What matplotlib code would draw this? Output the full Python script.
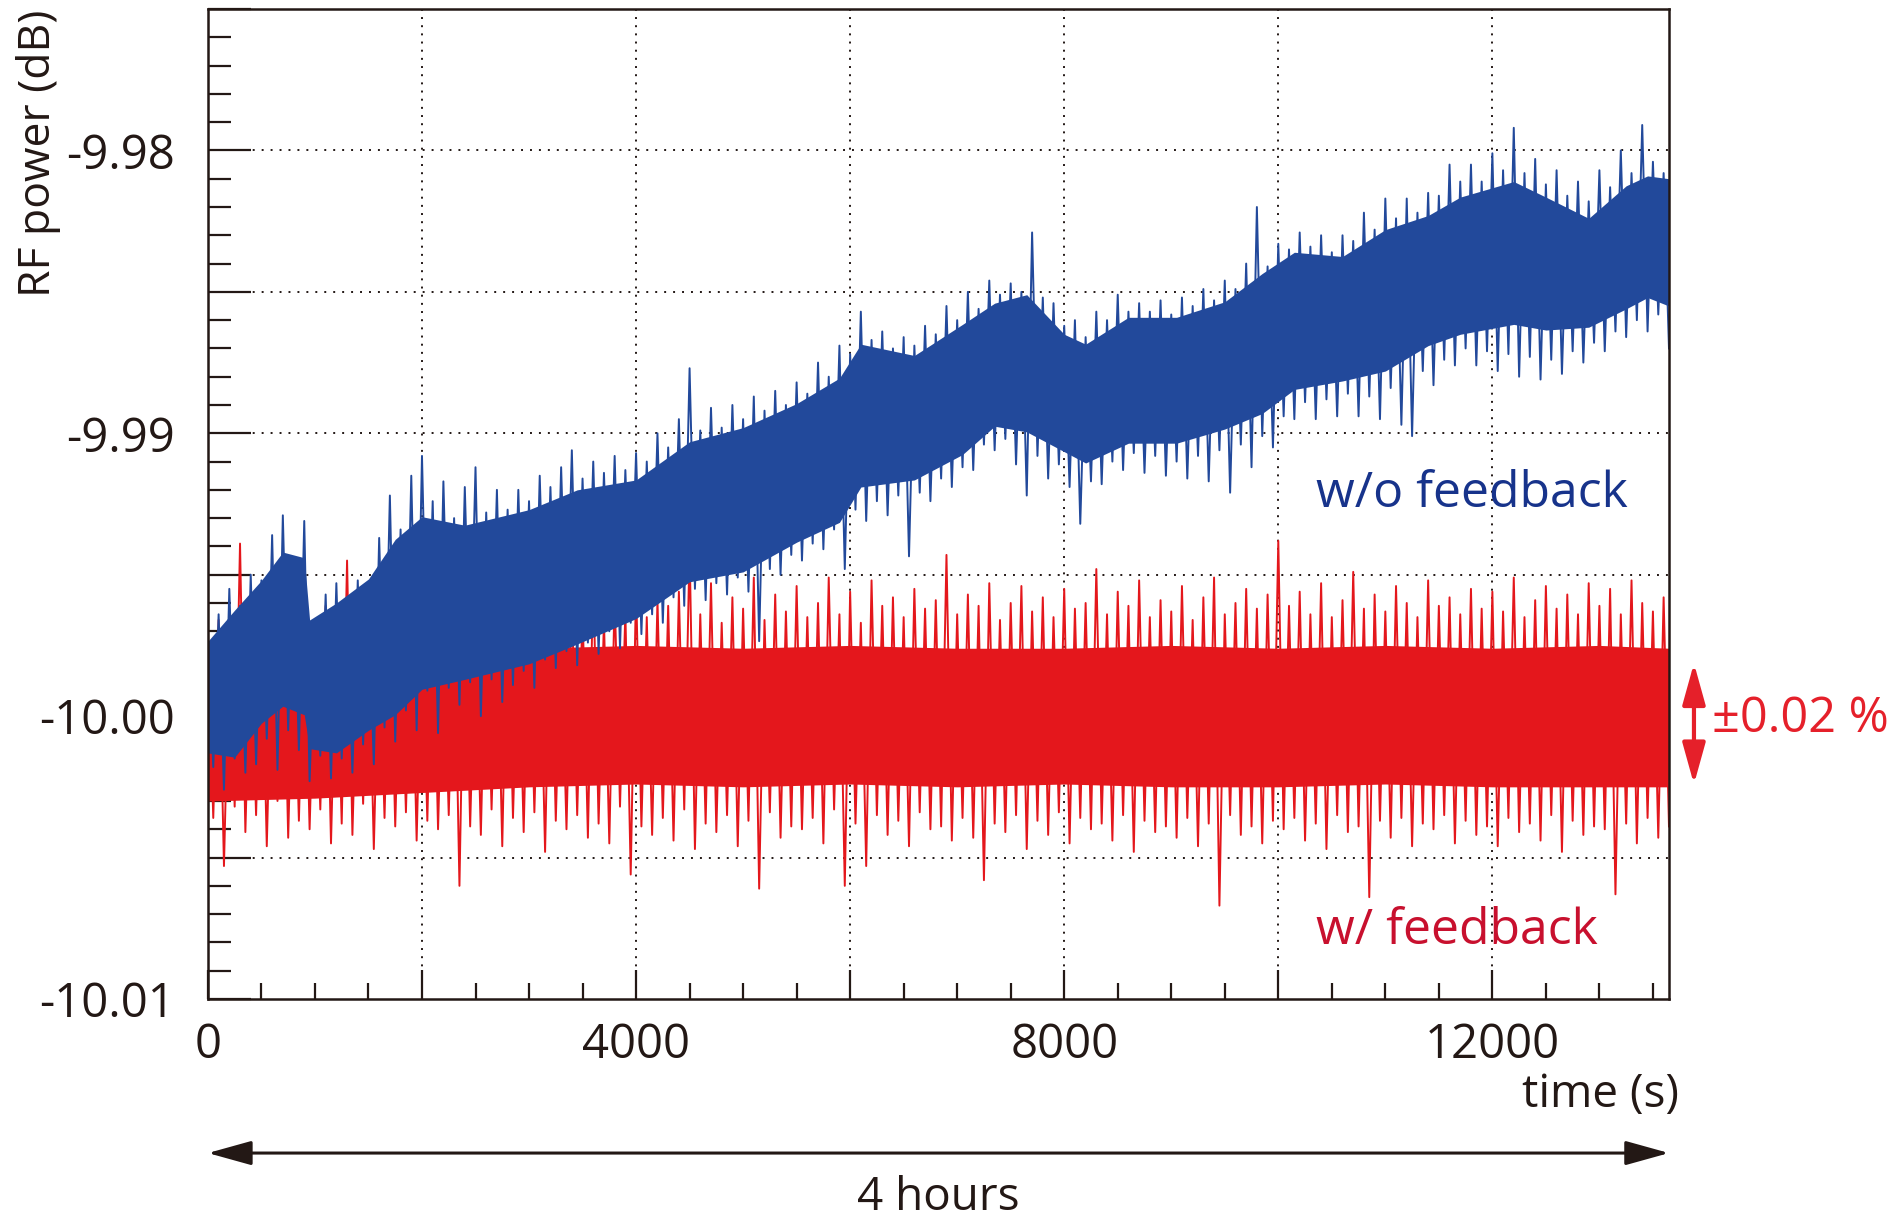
import numpy as np
import matplotlib
matplotlib.use("Agg")
import matplotlib.pyplot as plt
from matplotlib import font_manager
from matplotlib.ticker import MultipleLocator, FuncFormatter

# values are offsets in mdB from -10 dB
BASE_DB = -10.0
STEP = 100  # s between successive peaks (troughs sit half a step later)

# w/o feedback: peaks at t = 0, 100, ... ; troughs at t = 50, 150, ...
blue_peaks = [
    2.9, 3.6, 4.5, 3.9, 5.0, 4.8, 6.4, 7.1, 5.6, 6.9,
    3.4, 4.3, 4.7, 3.9, 4.8, 4.2, 6.3, 7.8, 6.6, 8.5,
    9.2, 7.6, 8.3, 7.0, 8.1, 8.8, 7.2, 8.0, 7.3, 8.0,
    7.6, 8.5, 8.1, 8.8, 9.4, 8.4, 9.0, 8.6, 9.2, 8.7,
    9.3, 9.0, 10.0, 9.5, 10.5, 12.3, 10.1, 10.9, 10.2, 11.0,
    10.5, 11.3, 10.8, 11.5, 11.0, 11.8, 11.4, 12.5, 12.0, 13.1,
    12.8, 14.3, 13.3, 13.6, 13.0, 13.4, 13.1, 13.8, 13.5, 14.5,
    14.0, 15.0, 14.4, 15.4, 14.9, 15.3, 15.0, 17.1, 14.8, 14.6,
    13.8, 14.0, 13.4, 14.3, 14.0, 14.9, 14.3, 14.6, 14.3, 14.7,
    14.2, 14.8, 14.5, 15.1, 14.7, 15.4, 15.1, 16.0, 18.0, 15.9,
    16.7, 16.5, 17.1, 16.6, 17.0, 16.4, 17.0, 16.8, 17.8, 17.2,
    18.3, 17.6, 18.3, 17.8, 18.5, 18.4, 19.5, 18.9, 19.5, 18.9,
    19.9, 19.3, 20.8, 19.2, 19.7, 18.8, 19.3, 18.4, 18.9, 18.2,
    19.3, 18.7, 20.0, 19.2, 20.9, 19.6, 19.2,
]
blue_troughs = [
    -1.8, -2.6, -1.5, -2.0, -1.7, -0.8, -1.9, -0.5, -1.2, -2.3,
    -1.4, -2.2, -1.5, -2.0, -1.0, -1.7, -0.4, -0.9, 0.2, -0.5,
    0.9, -0.6, 1.0, 0.4, 1.2, 0.0, 1.3, 0.5, 1.1, 1.6,
    1.0, 2.0, 1.7, 2.3, 1.8, 2.6, 2.2, 3.0, 2.4, 3.3,
    2.9, 3.6, 3.3, 4.2, 3.9, 4.5, 4.1, 4.7, 4.3, 4.9,
    4.4, 2.65, 5.2, 5.0, 5.7, 5.5, 6.1, 5.9, 6.6, 5.2,
    7.3, 6.9, 7.6, 7.1, 7.8, 5.65, 7.9, 7.6, 8.4, 8.1,
    8.8, 8.7, 9.6, 9.4, 9.8, 8.9, 7.8, 9.2, 8.4, 8.9,
    8.1, 6.8, 8.3, 8.2, 9.0, 8.7, 9.3, 8.6, 9.2, 8.5,
    9.0, 8.4, 9.2, 8.3, 9.4, 7.9, 9.6, 8.8, 9.9, 9.5,
    10.6, 10.5, 11.1, 10.5, 11.2, 10.6, 11.4, 10.6, 11.3, 10.5,
    11.6, 10.3, 9.9, 12.2, 11.7, 12.6, 12.4, 13.0, 12.4, 12.9,
    12.2, 12.8, 12.0, 12.7, 11.9, 12.6, 12.1, 12.9, 12.5, 13.2,
    12.9, 13.6, 13.4, 14.0, 13.6, 14.2, 13.0,
]

# w/ feedback
red_peaks = [
    2.8, 3.4, 2.6, 6.1, 3.0, 3.7, 2.9, 4.2, 3.1, 3.6,
    2.7, 3.9, 3.2, 5.5, 2.9, 3.5, 3.1, 4.0, 3.3, 3.8,
    3.4, 4.4, 3.0, 3.9, 4.6, 3.2, 4.1, 3.5, 4.8, 3.3,
    4.0, 3.6, 4.5, 3.1, 4.2, 3.8, 5.0, 3.4, 4.3, 3.7,
    4.6, 3.5, 4.1, 3.9, 4.4, 6.0, 3.6, 4.7, 3.3, 4.2,
    3.8, 4.9, 3.4, 4.3, 3.7, 4.6, 3.5, 4.0, 4.9, 3.6,
    4.4, 3.3, 4.8, 3.9, 4.2, 3.5, 4.5, 3.8, 4.1, 5.7,
    3.6, 4.3, 3.9, 4.7, 3.4, 4.0, 4.6, 3.7, 4.2, 3.5,
    4.5, 3.8, 4.0, 5.2, 3.6, 4.4, 3.9, 4.8, 3.5, 4.1,
    3.7, 4.6, 3.4, 4.2, 4.9, 3.6, 4.0, 4.5, 3.8, 4.3,
    6.2, 3.9, 4.4, 3.6, 4.7, 3.5, 4.1, 5.1, 3.8, 4.3,
    3.7, 4.6, 4.0, 3.5, 4.8, 3.9, 4.2, 3.6, 4.5, 3.8,
    4.4, 3.7, 4.9, 3.5, 4.1, 4.6, 3.8, 4.3, 3.6, 4.7,
    3.9, 4.5, 3.6, 4.8, 4.0, 3.7, 4.2,
]
red_troughs = [
    -3.6, -5.3, -3.2, -4.1, -3.5, -4.6, -3.0, -4.3, -3.7, -4.0,
    -3.3, -4.5, -3.8, -4.2, -3.1, -4.7, -3.6, -3.9, -3.4, -4.4,
    -3.7, -4.0, -3.5, -6.0, -3.9, -4.2, -3.3, -4.6, -3.6, -4.1,
    -3.4, -4.8, -3.7, -4.0, -3.5, -4.3, -3.8, -4.5, -3.2, -5.6,
    -3.9, -4.2, -3.6, -4.4, -3.3, -4.7, -3.8, -4.1, -3.5, -4.6,
    -3.7, -6.1, -3.4, -4.3, -3.9, -4.0, -3.6, -4.5, -3.3, -6.0,
    -3.8, -5.3, -3.5, -4.2, -3.7, -4.6, -3.4, -4.0, -3.9, -4.4,
    -3.6, -4.3, -5.8, -3.8, -4.1, -3.5, -4.7, -3.7, -4.2, -3.4,
    -4.5, -3.6, -4.0, -3.8, -4.4, -3.5, -4.8, -3.7, -4.1, -3.9,
    -4.3, -3.6, -4.6, -3.8, -6.7, -3.5, -4.2, -3.9, -4.5, -3.7,
    -4.0, -3.6, -4.4, -3.8, -4.7, -3.5, -4.1, -3.9, -6.4, -3.7,
    -4.3, -3.6, -4.6, -3.8, -4.0, -3.5, -4.5, -3.7, -4.2, -3.9,
    -4.6, -3.6, -4.1, -3.8, -4.4, -3.5, -4.8, -3.7, -4.2, -3.9,
    -4.0, -6.3, -3.8, -4.5, -3.6, -4.3, -3.9,
]

# visually solid part of each trace (mdB)
blue_band_t = [0, 250, 500, 700, 900, 950, 1200, 1500, 1750, 2000, 2400, 3000,
               3450, 4000, 4500, 5000, 5500, 5900, 6100, 6600, 7050, 7350, 7650,
               8000, 8200, 8600, 9050, 9500, 9850, 10150, 10600, 11000, 11400,
               11700, 12200, 12500, 12900, 13250, 13450, 13650]
blue_band_hi = [2.65, 3.75, 4.8, 5.8, 5.6, 3.4, 4.0, 4.85, 6.25, 7.05, 6.75, 7.3,
                8.0, 8.35, 9.7, 10.2, 11.05, 11.95, 13.15, 12.75, 13.85, 14.6, 14.9,
                13.5, 13.15, 14.1, 14.1, 14.65, 15.65, 16.4, 16.25, 17.2, 17.7,
                18.35, 18.9, 18.35, 17.6, 18.75, 19.1, 19.0]
blue_band_lo = [-1.3, -1.45, -0.25, 0.35, 0.05, -1.15, -1.3, -0.5, 0.05, 0.95, 1.3, 1.85,
                2.55, 3.45, 4.75, 5.1, 6.15, 6.85, 8.1, 8.35, 9.25, 10.25, 10.05,
                9.35, 8.95, 9.65, 9.65, 10.15, 10.7, 11.55, 11.85, 12.2, 13.1,
                13.5, 13.85, 13.65, 13.75, 14.4, 14.8, 14.5]

red_band_t = [0, 1000, 2000, 3000, 4000, 5000, 6000, 7000, 8000, 9000, 10000,
              11000, 12000, 13000, 13650]
red_band_hi = [2.1, 2.2, 2.3, 2.4, 2.5, 2.4, 2.5, 2.4, 2.4, 2.5, 2.4, 2.5, 2.4, 2.5, 2.4]
red_band_lo = [-3.0, -2.9, -2.7, -2.5, -2.4, -2.5, -2.4, -2.5, -2.4, -2.5, -2.5,
               -2.4, -2.5, -2.5, -2.5]

X_MAX = 13650
Y_MIN, Y_MAX = -10.01, -9.975

BLUE = "#22499b"
RED = "#e4171c"
BLUE_TXT = "#17338b"
RED_TXT = "#c8102e"
RED_MARK = "#e5202a"
INK = "#231815"

avail = {f.name for f in font_manager.fontManager.ttflist}
TXT_FONT = "Open Sans" if "Open Sans" in avail else "DejaVu Sans"
TICK_FONT, TICK_SIZE = TXT_FONT, 34


def to_db(v):
    return BASE_DB + np.asarray(v, dtype=float) / 1000.0


def trace(peaks, troughs):
    n = len(peaks)
    t = np.empty(2 * n)
    y = np.empty(2 * n)
    t[0::2] = np.arange(n) * STEP
    t[1::2] = np.arange(n) * STEP + STEP / 2
    y[0::2] = peaks
    y[1::2] = troughs
    return t, to_db(y)


fig = plt.figure(figsize=(18.97, 12.19), dpi=100)
ax = fig.add_axes([0.1096, 0.1805, 0.7702, 0.8121])

# red first, blue drawn over it
series = [
    (red_band_t, red_band_lo, red_band_hi, red_peaks, red_troughs, RED),
    (blue_band_t, blue_band_lo, blue_band_hi, blue_peaks, blue_troughs, BLUE),
]
for band_t, lo, hi, pk, tr, col in series:
    ax.fill_between(band_t, to_db(lo), to_db(hi), color=col, lw=0, zorder=2)
    tt, yy = trace(pk, tr)
    ax.plot(tt, yy, color=col, lw=1.4, zorder=2)

ax.set_xlim(0, X_MAX)
ax.set_ylim(Y_MIN, Y_MAX)

ax.xaxis.set_major_locator(MultipleLocator(2000))
ax.xaxis.set_minor_locator(MultipleLocator(500))
ax.yaxis.set_major_locator(MultipleLocator(0.005))
ax.yaxis.set_minor_locator(MultipleLocator(0.001))
ax.xaxis.set_major_formatter(FuncFormatter(
    lambda v, p: f"{int(round(v))}" if round(v) % 4000 == 0 else ""))
ax.yaxis.set_major_formatter(FuncFormatter(
    lambda v, p: f"{v:.2f}" if abs(v * 100 - round(v * 100)) < 1e-6 else ""))

# dotted grid behind the data
for xv in ax.get_xticks():
    if 0 < xv < X_MAX:
        ax.axvline(xv, color=INK, lw=1.4, ls=(0, (1, 3.2)), zorder=1)
for yv in ax.get_yticks():
    if Y_MIN + 1e-6 < yv < Y_MAX - 1e-6:
        ax.axhline(yv, color=INK, lw=1.4, ls=(0, (1, 3.6)), zorder=1)

ax.tick_params(which="both", direction="in", top=False, right=False, colors=INK)
ax.tick_params(axis="y", which="major", length=31, width=1.6, pad=24)
ax.tick_params(axis="y", which="minor", length=16.5, width=1.6)
ax.tick_params(axis="x", which="major", length=21, width=1.6, pad=16)
ax.tick_params(axis="x", which="minor", length=11.5, width=1.6)
for lab in ax.get_xticklabels() + ax.get_yticklabels():
    lab.set_fontfamily(TICK_FONT)
    lab.set_fontsize(TICK_SIZE)
    lab.set_color(INK)
for sp in ax.spines.values():
    sp.set_linewidth(1.8)
    sp.set_color(INK)
    sp.set_zorder(3)

ax.text(10352, -9.99259, "w/o feedback", color=BLUE_TXT, fontsize=36,
        family=TXT_FONT, ha="left", va="baseline", zorder=4)
ax.text(10352, -10.00806, "w/ feedback", color=RED_TXT, fontsize=36,
        family=TXT_FONT, ha="left", va="baseline", zorder=4)

# +-0.02 % band marker
ax.annotate("", xy=(1.0171, -10.00241), xytext=(1.0171, -9.99813),
            xycoords=("axes fraction", "data"), textcoords=("axes fraction", "data"),
            arrowprops=dict(arrowstyle="<|-|>,head_length=0.9,head_width=0.25",
                            color=RED_MARK, lw=3, shrinkA=0, shrinkB=0,
                            mutation_scale=28),
            annotation_clip=False)
ax.text(1.0294, -10.0001, "\u00b10.02 %", color=RED_MARK, fontsize=35,
        family=TXT_FONT, ha="left", va="center", transform=ax.get_yaxis_transform(),
        clip_on=False)

# 4 hours span
ax.annotate("", xy=(X_MAX, 0.0541), xytext=(0, 0.0541),
            xycoords=("data", "figure fraction"), textcoords=("data", "figure fraction"),
            arrowprops=dict(arrowstyle="<|-|>,head_length=0.9,head_width=0.25",
                            color=INK, lw=2.2, shrinkA=0, shrinkB=0,
                            mutation_scale=30),
            annotation_clip=False)
fig.text(938 / 1897, 1 - 1210 / 1219, "4 hours", color=INK, fontsize=33,
         family=TXT_FONT, ha="center", va="baseline")

fig.text(1679 / 1897, 1 - 1095 / 1219, "time (s)", color=INK, fontsize=33,
         family=TXT_FONT, ha="right", va="center")
fig.text(39 / 1897, 1 - 10 / 1219, "RF power (dB)", color=INK, fontsize=32,
         family=TXT_FONT, ha="center", va="top", rotation=90)

fig.savefig("out.png", dpi=100)
